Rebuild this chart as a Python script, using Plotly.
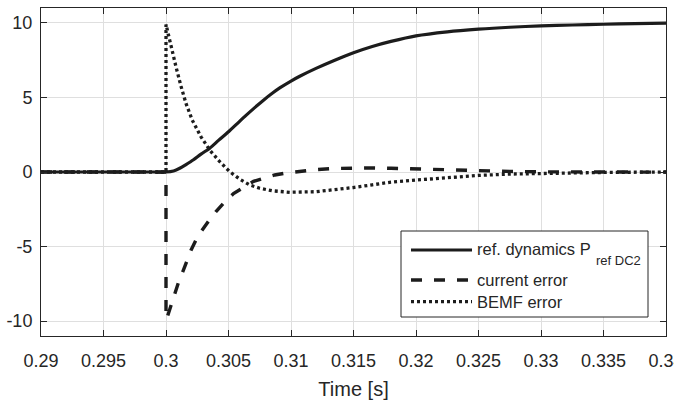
import plotly.graph_objects as go

# Time axis ticks
x_ticks = [0.29, 0.295, 0.30, 0.305, 0.31, 0.315, 0.32, 0.325, 0.33, 0.335, 0.34]
x_tick_labels = ["0.29", "0.295", "0.3", "0.305", "0.31", "0.315", "0.32", "0.325", "0.33", "0.335", "0.34"]
y_ticks = [-10, -5, 0, 5, 10]
y_tick_labels = ["-10", "-5", "0", "5", "10"]

# Reference dynamics P_ref DC2
t_ref = [0.29, 0.295, 0.299, 0.300, 0.3006, 0.3011, 0.3016, 0.3022, 0.3028, 0.3035, 0.3042,
         0.3050, 0.3057, 0.3064, 0.3071, 0.3078, 0.3085, 0.3091, 0.3100, 0.3107, 0.3120,
         0.3135, 0.3150, 0.3165, 0.3180, 0.3200, 0.3225, 0.3250, 0.3275, 0.3300, 0.3325,
         0.3350, 0.3375, 0.3400]
v_ref = [0.0, 0.0, 0.0, 0.0, 0.07, 0.25, 0.50, 0.82, 1.20, 1.60, 2.12,
         2.70, 3.25, 3.80, 4.32, 4.82, 5.28, 5.64, 6.10, 6.42, 6.95,
         7.50, 8.00, 8.42, 8.76, 9.13, 9.40, 9.58, 9.71, 9.80, 9.86,
         9.91, 9.95, 9.98]

# Current error
t_cur = [0.29, 0.300, 0.300, 0.30005, 0.3004, 0.3007, 0.3010, 0.3014, 0.3017, 0.3020,
         0.3024, 0.3028, 0.3034, 0.3040, 0.3047, 0.3054, 0.3062, 0.3070, 0.3078, 0.3087,
         0.3097, 0.3105, 0.3120, 0.3135, 0.3150, 0.3165, 0.3180, 0.3200, 0.3225, 0.3250,
         0.3275, 0.3300, 0.3325, 0.3350, 0.3400]
v_cur = [0.0, 0.0, -9.70, -9.87, -8.95, -8.15, -7.40, -6.56, -5.90, -5.25,
         -4.55, -4.00, -3.30, -2.65, -2.00, -1.45, -1.03, -0.63, -0.42, -0.20,
         -0.06, 0.03, 0.16, 0.24, 0.28, 0.27, 0.25, 0.20, 0.13, 0.08,
         0.04, 0.01, 0.0, -0.01, -0.01]

# BEMF error
t_bemf = [0.29, 0.300, 0.300, 0.3004, 0.3008, 0.3012, 0.3016, 0.3021, 0.3028, 0.3035,
          0.3043, 0.3051, 0.3059, 0.3067, 0.3075, 0.3085, 0.3099, 0.3120, 0.3135, 0.3150,
          0.3165, 0.3180, 0.3200, 0.3225, 0.3250, 0.3275, 0.3300, 0.3325, 0.3350, 0.3400]
v_bemf = [0.0, 0.0, 9.90, 8.40, 7.05, 5.75, 4.60, 3.48, 2.36, 1.47,
          0.69, 0.02, -0.48, -0.87, -1.09, -1.26, -1.36, -1.32, -1.20, -1.04,
          -0.86, -0.68, -0.54, -0.37, -0.23, -0.14, -0.09, -0.05, -0.03, 0.0]

legend_labels = ["ref. dynamics P", "current error", "BEMF error"]
legend_sub = "ref DC2"

W, H = 674, 401
L, R, T, B = 41, 666, 8, 336          # plot area in pixels
INK = "#262626"
LINE = "#1c1c1c"
FONT = "Liberation Sans, Arial, Helvetica, sans-serif"
DASH = "11px,12px"
DOT = "3px,3px"


def px(x):
    return (x - L) / (R - L)


def py(y):
    return (B - y) / (B - T)


fig = go.Figure()
fig.add_trace(go.Scatter(x=t_ref, y=v_ref, mode="lines", name=legend_labels[0],
                         line=dict(color=LINE, width=3.2, shape="spline", smoothing=0.8)))
fig.add_trace(go.Scatter(x=t_cur, y=v_cur, mode="lines", name=legend_labels[1],
                         line=dict(color=LINE, width=3.4, dash=DASH)))
fig.add_trace(go.Scatter(x=t_bemf, y=v_bemf, mode="lines", name=legend_labels[2],
                         line=dict(color=LINE, width=3.3, dash=DOT)))

axis_common = dict(
    showline=True, linecolor=INK, linewidth=1, mirror="ticks",
    ticks="inside", ticklen=6, tickwidth=1, tickcolor=INK,
    showgrid=True, gridcolor="#dfdfdf", gridwidth=1, zeroline=False,
    tickfont=dict(family=FONT, size=18, color=INK),
    automargin=False, ticklabeloverflow="allow",
)

fig.update_layout(
    width=W, height=H, autosize=False,
    margin=dict(l=L, r=W - R, t=T, b=H - B, pad=0),
    paper_bgcolor="white", plot_bgcolor="white",
    showlegend=False,
    font=dict(family=FONT, color=INK),
    xaxis=dict(range=[0.29, 0.3400001], tickvals=x_ticks, ticktext=x_tick_labels,
               ticklabelstandoff=8,
               title=dict(text="Time [s]", font=dict(family=FONT, size=20, color=INK), standoff=12),
               **axis_common),
    yaxis=dict(range=[-11, 11], tickvals=y_ticks, ticktext=y_tick_labels,
               ticklabelstandoff=4, **axis_common),
)

# Legend box with sample lines
shapes = [dict(type="rect", xref="paper", yref="paper", layer="above",
               x0=px(401), x1=px(648), y0=py(317), y1=py(231),
               line=dict(color=INK, width=1), fillcolor="white")]
rows_y = [250, 280, 301.7]
styles = [dict(width=3.2), dict(width=3.4, dash=DASH), dict(width=3.3, dash=DOT)]
for yy, st in zip(rows_y, styles):
    shapes.append(dict(type="line", xref="paper", yref="paper", layer="above",
                       x0=px(411), x1=px(472), y0=py(yy), y1=py(yy),
                       line=dict(color=LINE, **st)))
fig.update_layout(shapes=shapes)

ann = []
text_y = [249, 280, 302]
for lab, yy in zip(legend_labels, text_y):
    ann.append(dict(xref="paper", yref="paper", x=px(475), y=py(yy), text=lab,
                    showarrow=False, xanchor="left", yanchor="middle",
                    font=dict(family=FONT, size=16.5, color=INK)))
ann.append(dict(xref="paper", yref="paper", x=px(594), y=py(260), text=legend_sub,
                showarrow=False, xanchor="left", yanchor="middle",
                font=dict(family=FONT, size=13, color=INK)))
fig.update_layout(annotations=ann)

fig.write_html("out.html")
